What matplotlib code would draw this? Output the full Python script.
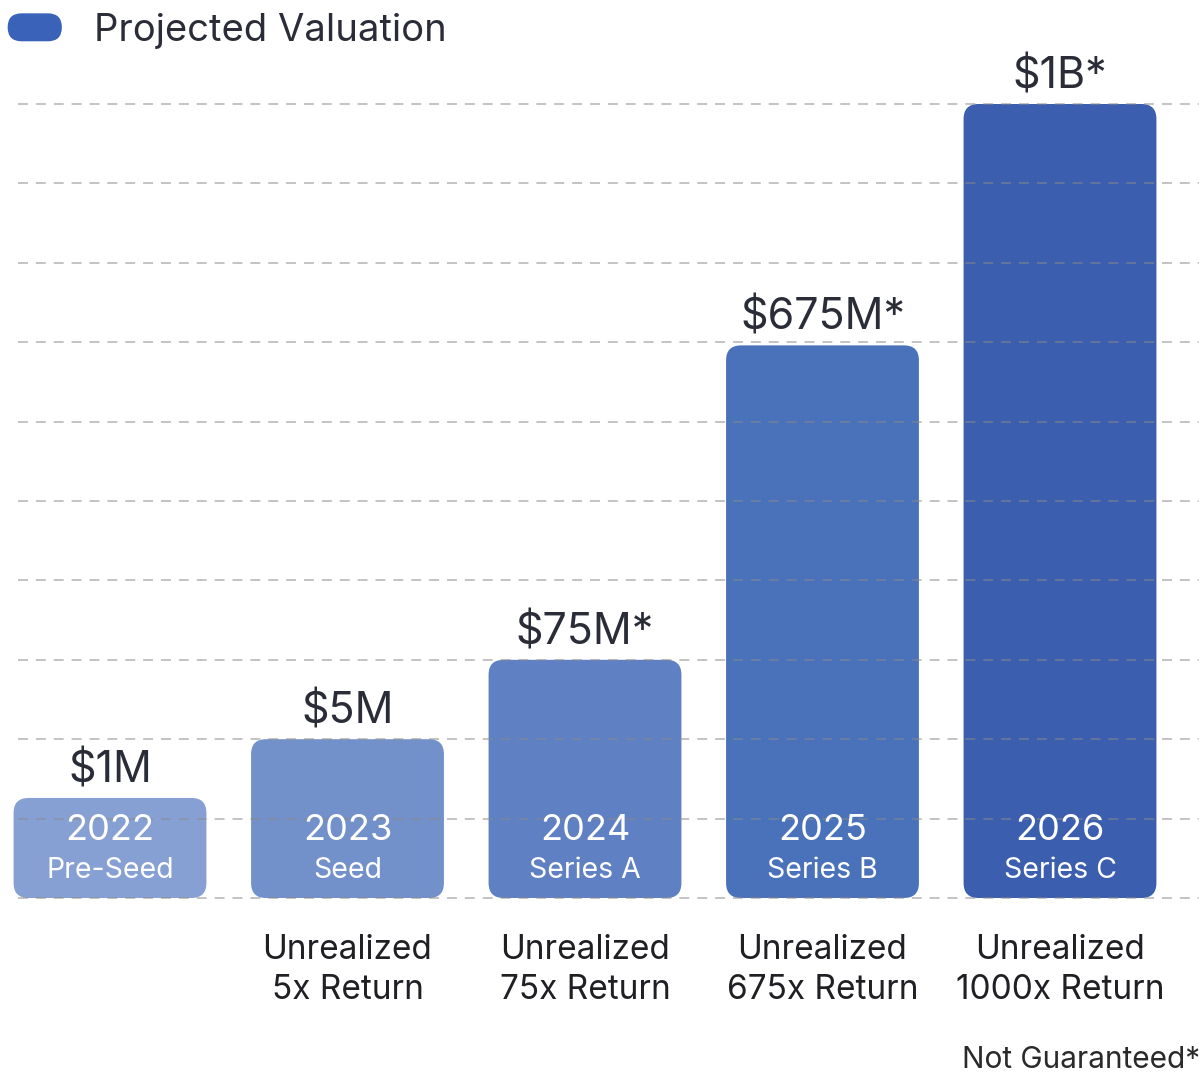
import matplotlib
matplotlib.use("Agg")
import matplotlib.pyplot as plt
from matplotlib.patches import FancyBboxPatch, Patch
from matplotlib.legend_handler import HandlerPatch

plt.rcParams['font.family'] = ['Inter', 'DejaVu Sans']

# ---- data ----
years = ["2022", "2023", "2024", "2025", "2026"]
stages = ["Pre-Seed", "Seed", "Series A", "Series B", "Series C"]
value_labels = ["$1M", "$5M", "$75M*", "$675M*", "$1B*"]
bar_heights = [1.26, 2.0, 3.0, 6.96, 10.0]   # visual heights in grid units
returns = ["", "Unrealized\n5x Return", "Unrealized\n75x Return",
           "Unrealized\n675x Return", "Unrealized\n1000x Return"]
bar_colors = ["#87a0d4", "#7290c9", "#5f80c2", "#4a72bb", "#3b5fae"]
grid_levels = list(range(0, 11))
legend_label = "Projected Valuation"
legend_color = "#3a62b8"
footnote = "Not Guaranteed*"

W, H = 1199, 1072
fig = plt.figure(figsize=(W / 100, H / 100), dpi=100)
ax = fig.add_axes([0, 0, 1, 1])

px_x = 237.5   # px per x unit
px_y = 79.4    # px per y unit
x0_px = 110
base_px = 898
ax.set_xlim((0 - x0_px) / px_x, (W - x0_px) / px_x)
ax.set_ylim(-(H - base_px) / px_y, base_px / px_y)
ax.axis('off')

xs = list(range(len(years)))
bars = ax.bar(xs, bar_heights, width=0.812, color=bar_colors)
r_px = 15
aspect = px_x / px_y
for b in bars:
    x, y = b.get_xy()
    w, h = b.get_width(), b.get_height()
    fc = b.get_facecolor()
    b.remove()
    p = FancyBboxPatch((x, y), w, h,
                       boxstyle=f"round,pad=0,rounding_size={r_px / px_x}",
                       mutation_aspect=aspect, facecolor=fc, edgecolor='none',
                       zorder=2)
    ax.add_patch(p)

# dashed grid over bars
ax.hlines(grid_levels, (18 - x0_px) / px_x, (W - x0_px) / px_x,
          colors='#8a8a8a', linestyles=(0, (5.5, 4.4)), linewidth=1.3,
          alpha=0.55, zorder=3)

text_color = '#2a2c38'
for i in xs:
    ax.annotate(value_labels[i], (i, bar_heights[i]), xytext=(0, 19.5),
                textcoords='offset points', ha='center', va='center',
                fontsize=31, color=text_color, zorder=4)
    ax.text(i, (base_px - 830) / px_y, years[i], ha='center', va='center',
            fontsize=26, color='white', zorder=4)
    ax.text(i, (base_px - 871) / px_y, stages[i], ha='center', va='center',
            fontsize=20.5, color='white', zorder=4)
    if returns[i]:
        ax.text(i, (base_px - 970) / px_y, returns[i], ha='center', va='center',
                fontsize=24, color='#1f1f24', linespacing=1.3, zorder=4)

ax.text((W + 1 - x0_px) / px_x, (base_px - 1060) / px_y, footnote,
        ha='right', va='center', fontsize=21.5, color='#2a2a2a')


class PillHandler(HandlerPatch):
    def create_artists(self, legend, orig_handle, xdescent, ydescent,
                       width, height, fontsize, trans):
        p = FancyBboxPatch((-xdescent, -ydescent), width, height,
                           boxstyle=f"round,pad=0,rounding_size={height / 2}",
                           facecolor=orig_handle.get_facecolor(),
                           edgecolor='none', transform=trans)
        return [p]


handle = Patch(facecolor=legend_color, label=legend_label)
leg = fig.legend(handles=[handle], handler_map={Patch: PillHandler()},
                 loc='upper left', bbox_to_anchor=(0.0, 1.0 - 5 / H),
                 frameon=False, fontsize=27.5, handlelength=1.42,
                 handleheight=0.75, handletextpad=0.85, borderaxespad=0,
                 borderpad=0.2)
for t in leg.get_texts():
    t.set_color(text_color)

fig.savefig("out.png", dpi=100, facecolor='white')
